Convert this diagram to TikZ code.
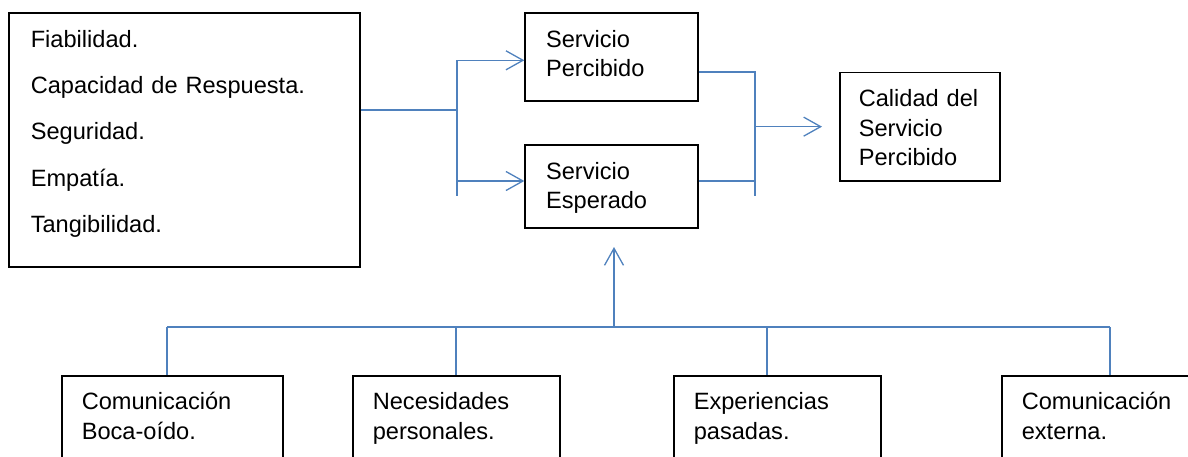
\documentclass[tikz,border=0pt]{standalone}
\usepackage{fontspec}
\setmainfont{Liberation Sans}
\usepackage{tikz}
\usetikzlibrary{arrows.meta}
\definecolor{bleu}{RGB}{79,129,189}
\tikzstyle{boite}=[
	draw=black,
	line width=1.6pt,
	anchor=north west,
	align=left,
	inner xsep=21pt,
	inner ysep=17pt,
	text height=17pt,
	font=\fontsize{23.6}{29.5}\selectfont
]
\tikzstyle{lien}=[
	draw=bleu,
	line width=1.3pt
]
\tikzstyle{fleche}=[
	lien,
	-{Straight Barb[length=17pt,width=19pt]}
]

\begin{document}
\begin{tikzpicture}[x=1pt,y=-1pt]
\clip (0,0) rectangle (1188,456);
\node[boite, inner xsep=22pt, text width=307pt, text depth=202.7pt,
      font=\fontsize{23.6}{46.3}\selectfont] (factores) at (8,12.3)
      {Fiabilidad.\\Capacidad de Respuesta.\\Seguridad.\\Empatía.\\Tangibilidad.};
\node[boite, text width=130.7pt, text depth=37pt] (percibido) at (524.3,12.3) {Servicio\\Percibido};
\node[boite, text width=130.7pt, text depth=32pt] (esperado) at (524.3,144.3) {Servicio\\Esperado};
\node[boite, inner xsep=19pt, text width=122pt, text depth=57.3pt] (calidad) at (839,71.7)
      {Calidad del\\Servicio\\Percibido};
\node[boite, inner xsep=20pt, text width=181pt, text depth=69pt] (boca) at (61,375) {Comunicación\\Boca-oído.};
\node[boite, inner xsep=20pt, text width=167pt, text depth=69pt] (necesidades) at (352,375) {Necesidades\\personales.};
\node[boite, inner xsep=20pt, text width=167pt, text depth=69pt] (experiencias) at (673,375) {Experiencias\\pasadas.};
\node[boite, inner xsep=20pt, text width=180pt, text depth=69pt] (externa) at (1001,375) {Comunicación\\externa.};

\coordinate (bifur) at (457,110);
\coordinate (bifurhaut) at (457,60.3);
\coordinate (bifurbas) at (457,196);
\coordinate (versesp) at (457,181);
\coordinate (jonction) at (755,126);
\coordinate (jonctionhaut) at (755,72);
\coordinate (jonctionbas) at (755,196);
\coordinate (pointe) at (614,247);
\coordinate (bus) at (614,327);
\coordinate (bus1) at (167,327);
\coordinate (bus4) at (1110,327);

\draw[lien] (factores.east |- bifur) -- (bifur);
\draw[lien] (bifurhaut) -- (bifurbas);
\draw[fleche] (bifurhaut) -- (bifurhaut -| percibido.west);
\draw[fleche] (versesp) -- (versesp -| esperado.west);
\draw[lien] (percibido.east |- jonctionhaut) -- (jonctionhaut) -- (jonctionbas);
\draw[lien] (esperado.east |- versesp) -- (versesp -| jonction);
\draw[fleche] (calidad.west -| jonction) -- ([xshift=-17pt]calidad.west);
\draw[fleche] (bus) -- (pointe);
\draw[lien] (bus1) -- (bus4);
\foreach \x/\n in {167/boca,456/necesidades,767/experiencias,1110/externa}
  \draw[lien] (\x,327) -- (\x,327 |- \n.north);
\end{tikzpicture}
\end{document}
